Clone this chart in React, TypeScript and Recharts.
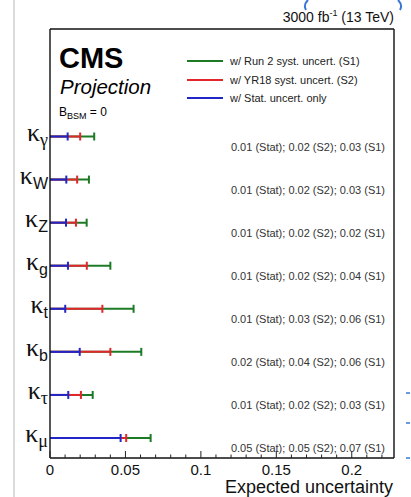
import React from 'react';
import {
  ComposedChart,
  XAxis,
  YAxis,
  Scatter,
  ReferenceLine,
  Legend,
} from 'recharts';

// Couplings, top to bottom
const couplings = ['γ', 'W', 'Z', 'g', 't', 'b', 'τ', 'μ'];
// Vertical slot of each coupling row (top row = 8)
const rowPositions = [8, 7, 6, 5, 4, 3, 2, 1];

// Expected 1σ uncertainties, 3000 fb^-1 at 13 TeV
const statOnly = [0.0117, 0.0108, 0.0106, 0.0119, 0.0101, 0.0197, 0.0121, 0.0468];
const yr18Syst = [0.02, 0.018, 0.0172, 0.0244, 0.0347, 0.04, 0.0205, 0.0505];
const run2Syst = [0.0293, 0.0258, 0.0243, 0.04, 0.0554, 0.0605, 0.0283, 0.0667];

const majorTicks = [0, 0.05, 0.1, 0.15, 0.2];
const minorTicks = Array.from({ length: 23 }, (_, i) => +(i * 0.01).toFixed(2));

const seriesNames = [
  'w/ Run 2 syst. uncert. (S1)',
  'w/ YR18 syst. uncert. (S2)',
  'w/ Stat. uncert. only',
];
const seriesColors = ['#1c7a24', '#e2262b', '#2026c8'];
const seriesValues = [run2Syst, yr18Syst, statOnly];

const FONT = '"Liberation Sans", Arial, Helvetica, sans-serif';
const GREEK_FONT = '"Liberation Serif", "DejaVu Serif", serif';
const X_DOMAIN: [number, number] = [0, 0.228];
const Y_DOMAIN: [number, number] = [0.536, 10.496];
const THIN = 0.01; // axes need a non-zero box to be drawn

const fmt = (v: number) => v.toFixed(2);

const rowIndex = (v: number) => rowPositions.findIndex((r) => Math.abs(r - v) < 1e-6);

const isMajor = (v: number) => majorTicks.some((m) => Math.abs(m - v) < 1e-9);
const isGreek = (s: string) => /[\u0370-\u03ff]/.test(s);

const BottomTick = (props: any) => {
  const { x, y, payload } = props;
  const v = payload.value as number;
  const major = isMajor(v);
  return (
    <g>
      <line x1={x} x2={x} y1={y} y2={y - (major ? 7 : 3.5)} stroke="#222" strokeWidth={1} />
      {major && (
        <text x={x} y={y + 17} textAnchor="middle" fontSize={15} fontFamily={FONT} fill="#111">
          {String(v)}
        </text>
      )}
    </g>
  );
};

const TopTick = (props: any) => {
  const { x, y, payload } = props;
  const major = isMajor(payload.value as number);
  return <line x1={x} x2={x} y1={y} y2={y + (major ? 7 : 3.5)} stroke="#222" strokeWidth={1} />;
};

const CouplingTick = (props: any) => {
  const { x, y, payload } = props;
  const i = rowIndex(payload.value);
  if (i < 0) return null;
  const sub = couplings[i];
  return (
    <text x={x - 2} y={y + 4} textAnchor="end" fill="#111">
      <tspan fontSize={26} fontFamily={GREEK_FONT}>κ</tspan>
      <tspan fontSize={isGreek(sub) ? 18 : 16} fontFamily={isGreek(sub) ? GREEK_FONT : FONT} dy={5}>
        {sub}
      </tspan>
    </text>
  );
};

const SummaryTick = (props: any) => {
  const { x, y, payload } = props;
  const i = rowIndex(payload.value);
  if (i < 0) return null;
  const txt = `${fmt(statOnly[i])} (Stat); ${fmt(yr18Syst[i])} (S2); ${fmt(run2Syst[i])} (S1)`;
  return (
    <text x={x - 9} y={y + 14} textAnchor="end" fontSize={11} fontFamily={FONT} fill="#333">
      {txt}
    </text>
  );
};

const makeCap = (color: string) => (props: any) => {
  const { cx, cy } = props;
  return <line x1={cx} x2={cx} y1={cy - 4} y2={cy + 4} stroke={color} strokeWidth={2} />;
};

const LegendBox = (props: any) => {
  const payload: any[] = props.payload || [];
  return (
    <div style={{ fontFamily: FONT, fontSize: 11, color: '#222' }}>
      {seriesNames.map((name, k) => {
        const entry = payload.find((p) => p.value === name);
        const color = (entry && entry.color) || seriesColors[k];
        return (
          <div key={name} style={{ display: 'flex', alignItems: 'center', height: 18.5 }}>
            <svg width={36} height={4} style={{ display: 'block' }}>
              <line x1={0} x2={36} y1={2} y2={2} stroke={color} strokeWidth={2.2} />
            </svg>
            <span style={{ marginLeft: 7, whiteSpace: 'nowrap' }}>{name}</span>
          </div>
        );
      })}
    </div>
  );
};

export default function App() {
  return (
    <div style={{ position: 'absolute', left: 0, top: 0, width: 411, height: 497, background: '#fff', overflow: 'hidden' }}>
      <ComposedChart
        width={411}
        height={497}
        margin={{ top: 29 - THIN, right: 17 - THIN, bottom: 39 - THIN, left: 50 - THIN }}
      >
        <XAxis
          type="number"
          dataKey="x"
          domain={X_DOMAIN}
          ticks={minorTicks}
          interval={0}
          height={THIN}
          tickSize={0}
          tickMargin={0}
          tickLine={false}
          tick={<BottomTick />}
          axisLine={{ stroke: '#111', strokeWidth: 1.4 }}
          allowDataOverflow
        />
        <XAxis
          xAxisId="top"
          orientation="top"
          type="number"
          domain={X_DOMAIN}
          ticks={minorTicks}
          interval={0}
          height={THIN}
          tickSize={0}
          tickMargin={0}
          tickLine={false}
          tick={<TopTick />}
          axisLine={{ stroke: '#111', strokeWidth: 1.4 }}
          allowDataOverflow
        />
        <YAxis
          type="number"
          dataKey="y"
          domain={Y_DOMAIN}
          ticks={rowPositions}
          interval={0}
          width={THIN}
          tickSize={0}
          tickMargin={0}
          tickLine={false}
          tick={<CouplingTick />}
          axisLine={{ stroke: '#111', strokeWidth: 1.4 }}
          allowDataOverflow
        />
        <YAxis
          yAxisId="right"
          orientation="right"
          type="number"
          domain={Y_DOMAIN}
          ticks={rowPositions}
          interval={0}
          width={THIN}
          tickSize={0}
          tickMargin={0}
          tickLine={false}
          tick={<SummaryTick />}
          axisLine={{ stroke: '#111', strokeWidth: 1.4 }}
          allowDataOverflow
        />

        {seriesValues.map((vals, s) =>
          vals.map((v, i) => (
            <ReferenceLine
              key={`seg-${s}-${i}`}
              segment={[
                { x: 0, y: rowPositions[i] },
                { x: v, y: rowPositions[i] },
              ]}
              stroke={seriesColors[s]}
              strokeWidth={2}
            />
          ))
        )}

        {seriesValues.map((vals, s) => (
          <Scatter
            key={`cap-${s}`}
            name={seriesNames[s]}
            data={vals.map((v, i) => ({ x: v, y: rowPositions[i] }))}
            fill={seriesColors[s]}
            shape={makeCap(seriesColors[s])}
            isAnimationActive={false}
          />
        ))}

        <Legend
          layout="vertical"
          align="center"
          verticalAlign="middle"
          content={<LegendBox />}
          wrapperStyle={{ position: 'absolute', left: 187, top: 52, width: 200 }}
        />
      </ComposedChart>

      <svg
        width={411}
        height={497}
        style={{ position: 'absolute', left: 0, top: 0, pointerEvents: 'none' }}
      >
        <line x1={14} x2={14} y1={0} y2={497} stroke="#cfcfcf" strokeWidth={1.5} />
        <path d="M 308 0 Q 303 5 306 10" fill="none" stroke="#3a78d4" strokeWidth={2} />
        <path d="M 398 0 Q 403 5 400 10" fill="none" stroke="#3a78d4" strokeWidth={2} />
        <line x1={406} x2={410} y1={393} y2={393} stroke="#3a78d4" strokeWidth={1.5} />
        <line x1={406} x2={410} y1={423} y2={423} stroke="#3a78d4" strokeWidth={1.5} />
        <line x1={406} x2={410} y1={458} y2={458} stroke="#3a78d4" strokeWidth={1.5} />

        <text x={394} y={22} textAnchor="end" fontFamily={FONT} fontSize={14} fill="#111">
          3000 fb<tspan fontSize={9} dy={-6}>-1</tspan>
          <tspan dy={6}> (13 TeV)</tspan>
        </text>

        <text x={59} y={68} fontFamily={FONT} fontSize={29} fontWeight="bold" fill="#000">
          CMS
        </text>
        <text x={60} y={94} fontFamily={FONT} fontSize={20.5} fontStyle="italic" fill="#000">
          Projection
        </text>
        <text x={59} y={116} fontFamily={FONT} fontSize={12} fill="#000">
          B<tspan fontSize={9} dy={3}>BSM</tspan>
          <tspan dy={-3}> = 0</tspan>
        </text>

        <text x={393} y={493} textAnchor="end" fontFamily={FONT} fontSize={18} fill="#111">
          Expected uncertainty
        </text>
      </svg>
    </div>
  );
}
